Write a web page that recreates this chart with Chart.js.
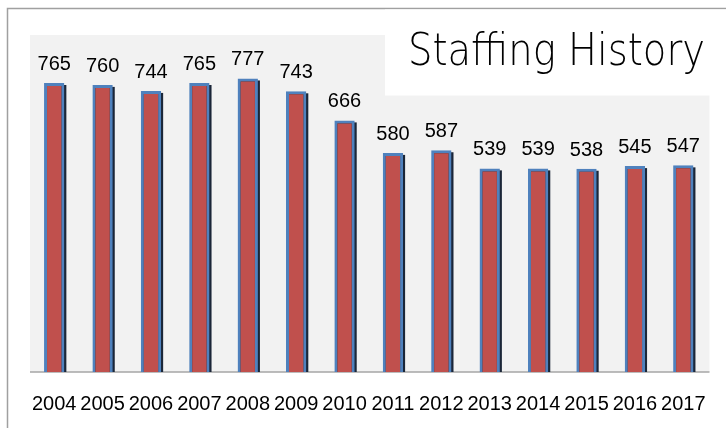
<!DOCTYPE html>
<html>
<head>
<meta charset="utf-8">
<script src="https://cdn.jsdelivr.net/npm/chart.js@4/dist/chart.umd.min.js"></script>
<style>
html,body{margin:0;padding:0;background:#fff;}
#wrap{width:726px;height:428px;position:relative;}
</style>
</head>
<body>
<div id="wrap"><canvas id="c" width="726" height="428"></canvas></div>
<script>
const years = ['2004','2005','2006','2007','2008','2009','2010','2011','2012','2013','2014','2015','2016','2017'];
const staff = [765, 760, 744, 765, 777, 743, 666, 580, 587, 539, 539, 538, 545, 547];
const chartTitle = 'Staffing History';

const labelFont = '"Liberation Sans", Arial, sans-serif';

function plotBounds(chart) {
  const pts = chart.getDatasetMeta(0).data;
  const cw = pts[1].x - pts[0].x;
  return { left: pts[0].x - cw / 2, right: pts[pts.length - 1].x + cw / 2 };
}

const frame = {
  id: 'frame',
  beforeDraw(chart) {
    const ctx = chart.ctx, a = chart.chartArea;
    const pb = plotBounds(chart);
    ctx.save();
    ctx.fillStyle = '#ffffff';
    ctx.fillRect(0, 0, chart.width, chart.height);
    ctx.fillStyle = '#f2f2f2';
    ctx.fillRect(pb.left, a.top + 3, pb.right - pb.left + 2, a.bottom - a.top - 3);
    ctx.strokeStyle = '#a0a0a0';
    ctx.lineWidth = 1.5;
    ctx.beginPath();
    ctx.moveTo(7.5, chart.height);
    ctx.lineTo(7.5, 8.5);
    ctx.lineTo(chart.width, 8.5);
    ctx.stroke();
    ctx.strokeStyle = '#a6a6a6';
    ctx.lineWidth = 1.5;
    ctx.beginPath();
    ctx.moveTo(pb.left, a.bottom);
    ctx.lineTo(pb.right + 2, a.bottom);
    ctx.stroke();
    ctx.restore();
  },
  beforeDatasetsDraw(chart) {
    const ctx = chart.ctx;
    ctx.save();
    ctx.fillStyle = '#1b2638';
    chart.getDatasetMeta(0).data.forEach(b => {
      const w = b.width;
      ctx.fillRect(b.x - w / 2 + 2, b.y + 2, w, b.base - b.y - 2);
    });
    ctx.restore();
  },
  afterDatasetsDraw(chart) {
    const ctx = chart.ctx;
    ctx.save();
    ctx.fillStyle = '#000';
    ctx.font = '20px ' + labelFont;
    ctx.textAlign = 'center';
    ctx.textBaseline = 'alphabetic';
    const ds = chart.data.datasets[0].data;
    chart.getDatasetMeta(0).data.forEach((b, i) => {
      ctx.fillText(String(ds[i]), b.x, b.y - 13);
    });
    // title box
    ctx.fillStyle = '#ffffff';
    ctx.fillRect(385, 9.5, chart.width - 385, 86);
    ctx.fillStyle = '#000';
    ctx.font = '200 44px "DejaVu Sans", sans-serif';
    ctx.textAlign = 'left';
    const tw = ctx.measureText(chartTitle).width;
    const target = 297;
    ctx.translate(408, 65);
    ctx.scale(target / tw, 1);
    ctx.fillText(chartTitle, 0, 0);
    ctx.restore();
  }
};

new Chart(document.getElementById('c'), {
  type: 'bar',
  data: {
    labels: years,
    datasets: [{
      data: staff,
      backgroundColor: '#c0504d',
      borderColor: '#4f81bd',
      borderWidth: 3,
      borderSkipped: 'bottom',
      barPercentage: 0.42,
      categoryPercentage: 1
    }]
  },
  options: {
    responsive: false,
    animation: false,
    events: [],
    layout: { padding: { left: 30, right: 13, top: 32, bottom: 0 } },
    plugins: { legend: { display: false }, tooltip: { enabled: false }, title: { display: false } },
    scales: {
      x: {
        grid: { display: false, drawTicks: false },
        border: { display: false },
        ticks: { color: '#000', font: { family: labelFont, size: 20 }, padding: 20, maxRotation: 0, autoSkip: false },
        afterFit(scale) { scale.height = 56; }
      },
      y: {
        display: false,
        min: 0,
        max: 900
      }
    }
  },
  plugins: [frame]
});
</script>
</body>
</html>
